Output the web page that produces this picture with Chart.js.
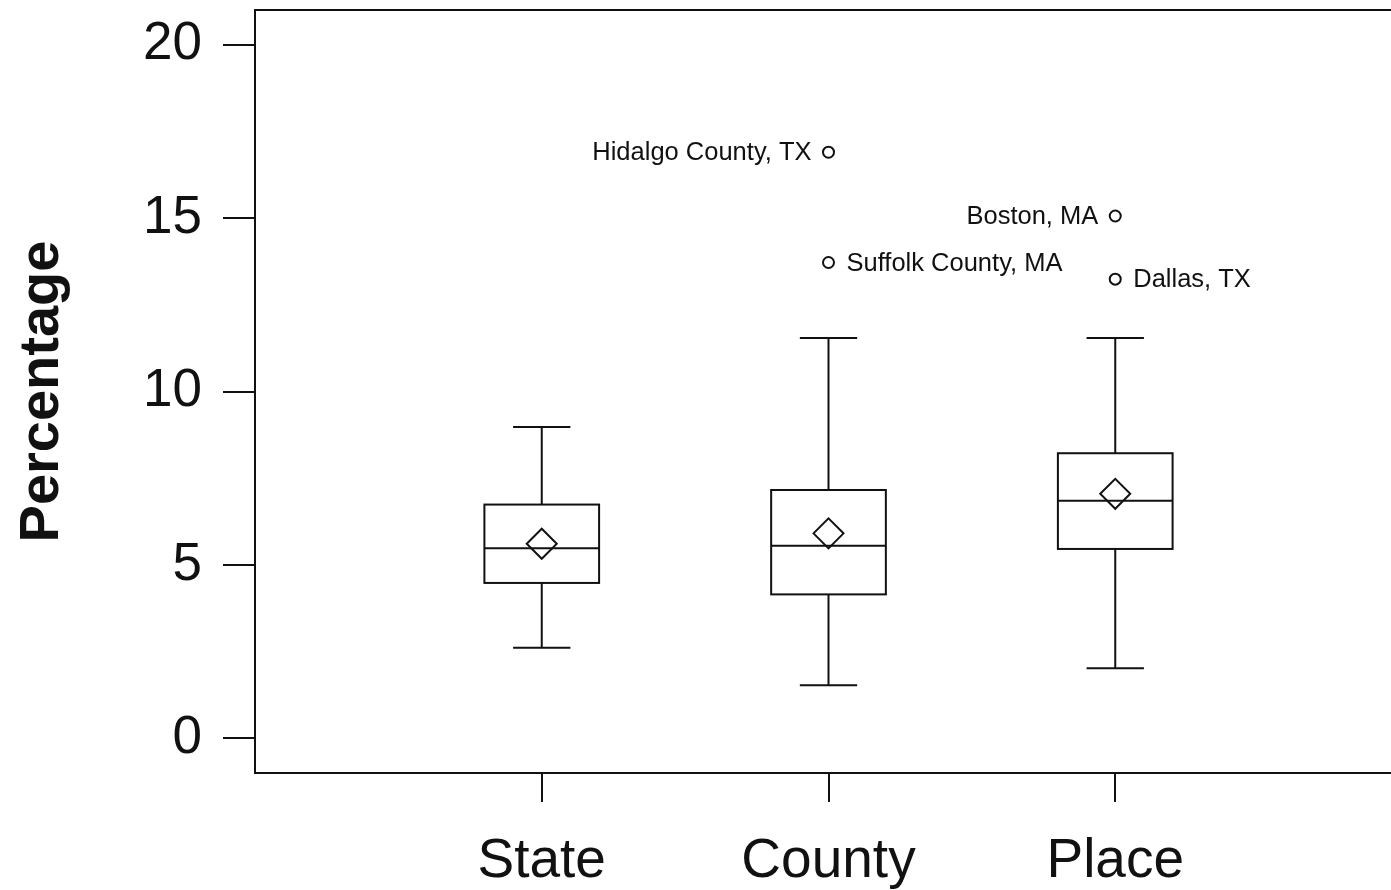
<!DOCTYPE html>
<html>
<head>
<meta charset="utf-8">
<script src="https://cdn.jsdelivr.net/npm/chart.js@4.4.1/dist/chart.umd.min.js"></script>
<style>
  html, body { margin: 0; padding: 0; background: #fff; overflow: hidden; }
  #wrap { position: relative; width: 1402px; height: 890px; }
</style>
</head>
<body>
<div id="wrap"><canvas id="chart"></canvas></div>
<script>
// five-number summaries per geography level
const categories = ["State", "County", "Place"];
const whiskerLow = [2.61, 1.53, 2.02];
const quartile1 = [4.48, 4.15, 5.46];
const medians = [5.48, 5.55, 6.85];
const quartile3 = [6.74, 7.16, 8.22];
const whiskerHigh = [8.98, 11.54, 11.54];
const means = [5.61, 5.91, 7.05];

// outliers: which category they belong to, their value and name
const outlierCategory = [1, 1, 2, 2];
const outlierValues = [16.9, 13.72, 15.06, 13.24];
const outlierNames = ["Hidalgo County, TX", "Suffolk County, MA", "Boston, MA", "Dallas, TX"];

const yTicks = [0, 5, 10, 15, 20];

const INK = "#111";
const FONT = "'Liberation Sans', Arial, sans-serif";
const BOX_HALF = 0.2;   // half box width, in category units
const CAP_HALF = 0.1;   // half whisker cap width
const labelOnLeft = [true, false, true, false];

const boxPlot = {
  id: "boxPlot",
  beforeDatasetsDraw(chart) {
    const { ctx, chartArea, scales: { x, y } } = chart;
    ctx.save();
    ctx.strokeStyle = INK;
    ctx.lineWidth = 2;
    ctx.lineCap = "butt";

    // top frame line (no right side, plot runs off the edge)
    ctx.beginPath();
    ctx.moveTo(chartArea.left - 1, chartArea.top);
    ctx.lineTo(chartArea.right, chartArea.top);
    ctx.stroke();

    categories.forEach((_, i) => {
      const pos = i + 1;
      const cx = x.getPixelForValue(pos);
      const bl = x.getPixelForValue(pos - BOX_HALF);
      const br = x.getPixelForValue(pos + BOX_HALF);
      const capL = x.getPixelForValue(pos - CAP_HALF);
      const capR = x.getPixelForValue(pos + CAP_HALF);
      const yLow = y.getPixelForValue(whiskerLow[i]);
      const yQ1 = y.getPixelForValue(quartile1[i]);
      const yMed = y.getPixelForValue(medians[i]);
      const yQ3 = y.getPixelForValue(quartile3[i]);
      const yHigh = y.getPixelForValue(whiskerHigh[i]);

      ctx.beginPath();
      // whiskers
      ctx.moveTo(cx, yQ3); ctx.lineTo(cx, yHigh);
      ctx.moveTo(capL, yHigh); ctx.lineTo(capR, yHigh);
      ctx.moveTo(cx, yQ1); ctx.lineTo(cx, yLow);
      ctx.moveTo(capL, yLow); ctx.lineTo(capR, yLow);
      // median
      ctx.moveTo(bl, yMed); ctx.lineTo(br, yMed);
      ctx.stroke();
      // box
      ctx.strokeRect(bl, yQ3, br - bl, yQ1 - yQ3);
    });
    ctx.restore();
  },
  afterDatasetsDraw(chart) {
    const { ctx } = chart;
    const meta = chart.getDatasetMeta(1);
    ctx.save();
    ctx.fillStyle = INK;
    ctx.font = "25.5px " + FONT;
    ctx.textBaseline = "middle";
    meta.data.forEach((pt, i) => {
      if (labelOnLeft[i]) {
        ctx.textAlign = "right";
        ctx.fillText(outlierNames[i], pt.x - 17, pt.y + 1);
      } else {
        ctx.textAlign = "left";
        ctx.fillText(outlierNames[i], pt.x + 18, pt.y + 1);
      }
    });
    ctx.restore();
  }
};

new Chart(document.getElementById("chart"), {
  type: "scatter",
  data: {
    datasets: [
      {
        label: "Mean",
        data: means.map((v, i) => ({ x: i + 1, y: v })),
        pointStyle: "rectRot",
        pointRadius: 15,
        pointBorderWidth: 2,
        pointBorderColor: INK,
        pointBackgroundColor: "rgba(0,0,0,0)",
      },
      {
        label: "Outliers",
        data: outlierValues.map((v, i) => ({ x: outlierCategory[i] + 1, y: v })),
        pointStyle: "circle",
        pointRadius: 5.5,
        pointBorderWidth: 2,
        pointBorderColor: INK,
        pointBackgroundColor: "rgba(0,0,0,0)",
      },
    ],
  },
  options: {
    responsive: true,
    maintainAspectRatio: false,
    animation: false,
    layout: { autoPadding: false, padding: { top: 10, left: 0, right: 0, bottom: 0 } },
    plugins: {
      legend: { display: false },
      tooltip: { enabled: false },
    },
    scales: {
      x: {
        type: "linear",
        min: 0,
        max: 4,
        afterBuildTicks: (scale) => {
          scale.ticks = categories.map((_, i) => ({ value: i + 1 }));
        },
        afterFit: (scale) => {
          scale.height = 117;
          scale.paddingLeft = 0;
          scale.paddingRight = 0;
        },
        ticks: {
          callback: (v) => categories[v - 1],
          color: INK,
          font: { family: FONT, size: 55 },
          padding: 27,
          maxRotation: 0,
          autoSkip: false,
        },
        grid: {
          drawOnChartArea: false,
          drawTicks: true,
          tickLength: 29,
          color: INK,
          lineWidth: 2,
        },
        border: { display: true, color: INK, width: 2 },
      },
      y: {
        min: -1,
        max: 21,
        afterBuildTicks: (scale) => {
          scale.ticks = yTicks.map((v) => ({ value: v }));
        },
        afterFit: (scale) => {
          scale.width = 255;
          scale.paddingTop = 0;
          scale.paddingBottom = 0;
        },
        ticks: {
          color: INK,
          font: { family: FONT, size: 53 },
          padding: 21,
        },
        grid: {
          drawOnChartArea: false,
          drawTicks: true,
          tickLength: 32,
          color: INK,
          lineWidth: 2,
        },
        border: { display: true, color: INK, width: 2 },
        title: {
          display: true,
          text: "Percentage",
          color: INK,
          font: { family: FONT, size: 56, weight: "bold" },
          padding: { top: 9, bottom: 0 },
        },
      },
    },
  },
  plugins: [boxPlot],
});
</script>
</body>
</html>
